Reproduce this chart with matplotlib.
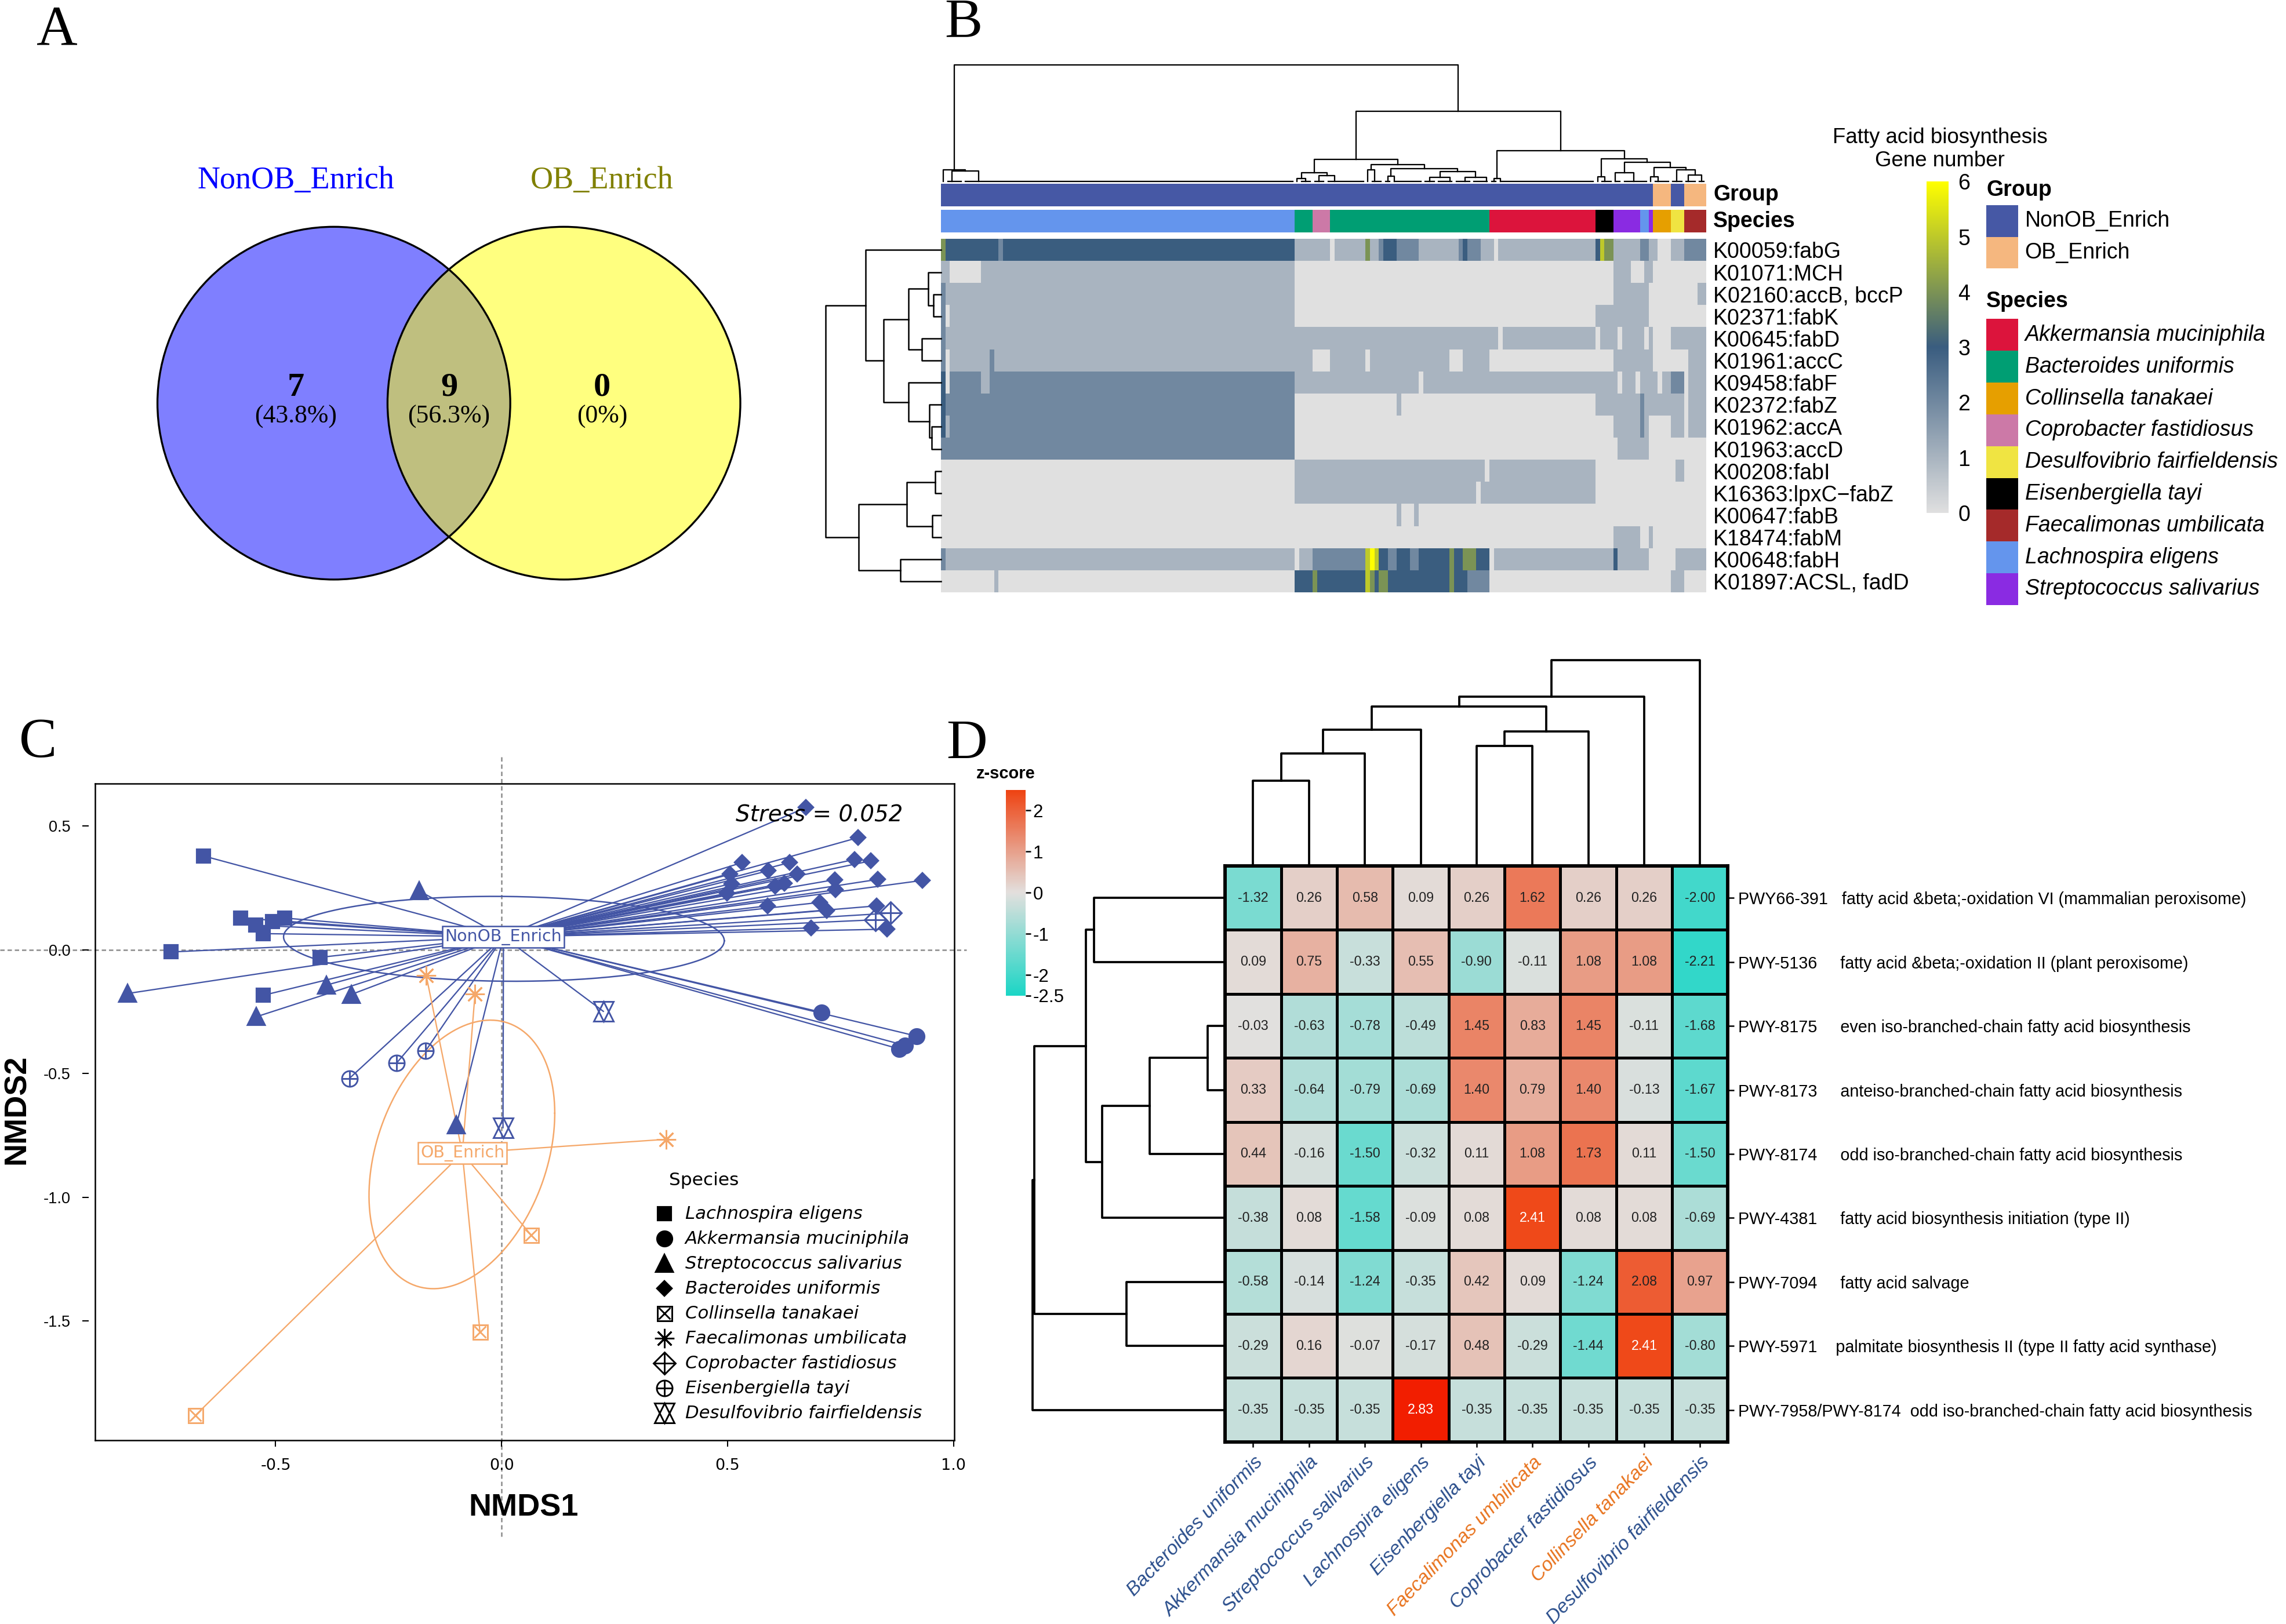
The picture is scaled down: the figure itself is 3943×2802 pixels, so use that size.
import numpy as np
import matplotlib
matplotlib.use('Agg')
import matplotlib.pyplot as plt
from matplotlib.patches import Circle, Rectangle
from matplotlib.colors import LinearSegmentedColormap, ListedColormap, Normalize

plt.rcParams['font.family'] = ['Liberation Sans', 'DejaVu Sans']

# layout is measured on a 1568 px wide view of the reference
W, H = 1568.0, 1114.2


def box(x0, y0, x1, y1):
    return [x0 / W, 1 - y1 / H, (x1 - x0) / W, (y1 - y0) / H]


# ---------------- A : venn ----------------
venn_sets = ['NonOB_Enrich', 'OB_Enrich']
venn_set_colors = ['#0000FF', '#808000']
venn_counts = [7, 9, 0]
venn_pct = ['(43.8%)', '(56.3%)', '(0%)']

# ---------------- B : gene number heatmap ----------------
gene_labels = ['K00059:fabG', 'K01071:MCH', 'K02160:accB, bccP', 'K02371:fabK',
               'K00645:fabD', 'K01961:accC', 'K09458:fabF', 'K02372:fabZ',
               'K01962:accA', 'K01963:accD', 'K00208:fabI', 'K16363:lpxC\u2212fabZ',
               'K00647:fabB', 'K18474:fabM', 'K00648:fabH', 'K01897:ACSL, fadD']

# (gene number, run length) along the 173 genomes, one list per gene
gene_runs = [
    [(4, 1), (3, 12), (2, 1), (3, 66), (1, 8), (0, 1), (1, 7), (4, 1), (1, 2), (2, 1), (3, 3), (2, 5),
     (1, 9), (2, 1), (3, 1), (2, 3), (1, 3), (0, 1), (1, 22), (3, 1), (5, 1), (4, 2), (1, 6), (2, 2),
     (1, 2), (0, 3), (1, 3), (2, 5)],
    [(1, 2), (0, 7), (1, 71), (0, 72), (1, 4), (0, 3), (1, 2), (0, 12)],
    [(2, 1), (1, 79), (0, 72), (1, 8), (0, 11), (1, 2)],
    [(2, 1), (0, 1), (1, 78), (0, 68), (1, 12), (0, 13)],
    [(2, 1), (1, 125), (0, 1), (1, 21), (0, 1), (1, 4), (0, 1), (1, 5), (0, 1), (1, 1), (0, 4), (1, 8)],
    [(2, 1), (0, 1), (1, 9), (2, 1), (1, 72), (0, 4), (1, 8), (0, 1), (1, 18), (0, 3), (1, 6), (0, 28),
     (1, 9), (0, 8), (1, 4)],
    [(3, 1), (0, 1), (2, 7), (1, 2), (2, 69), (1, 28), (0, 1), (1, 44), (0, 1), (1, 3), (0, 1), (1, 4),
     (0, 1), (1, 2), (2, 3), (0, 1), (1, 4)],
    [(3, 1), (2, 79), (0, 23), (1, 1), (0, 44), (1, 10), (2, 1), (1, 9), (0, 1), (1, 4)],
    [(3, 1), (1, 1), (2, 78), (0, 72), (1, 6), (2, 1), (1, 1), (0, 5), (1, 3), (0, 1), (1, 4)],
    [(2, 80), (0, 73), (1, 7), (0, 13)],
    [(0, 80), (1, 43), (0, 1), (1, 24), (0, 18), (1, 2), (0, 5)],
    [(0, 80), (1, 41), (0, 1), (1, 26), (0, 25)],
    [(0, 103), (1, 1), (0, 3), (1, 1), (0, 65)],
    [(0, 152), (1, 6), (0, 2), (1, 1), (0, 12)],
    [(2, 1), (1, 79), (0, 1), (1, 3), (2, 12), (5, 1), (6, 1), (5, 1), (3, 2), (2, 2), (3, 3), (2, 2),
     (3, 7), (4, 1), (3, 2), (4, 3), (3, 3), (0, 1), (1, 27), (3, 1), (1, 7), (0, 6), (1, 7)],
    [(0, 12), (1, 1), (0, 67), (3, 4), (4, 1), (3, 11), (5, 1), (4, 1), (3, 1), (4, 2), (3, 14), (4, 1),
     (3, 3), (2, 5), (0, 41), (1, 3), (0, 5)],
]

species_names = ['Akkermansia muciniphila', 'Bacteroides uniformis', 'Collinsella tanakaei',
                 'Coprobacter fastidiosus', 'Desulfovibrio fairfieldensis', 'Eisenbergiella tayi',
                 'Faecalimonas umbilicata', 'Lachnospira eligens', 'Streptococcus salivarius']
species_colors = ['#DC143C', '#009E73', '#E69F00', '#CC79A7', '#F0E442', '#000000',
                  '#A52A2A', '#6495ED', '#8A2BE2']
species_runs = [(7, 80), (1, 4), (3, 4), (1, 36), (0, 24), (5, 4), (8, 6), (7, 2), (8, 1),
                (2, 4), (4, 3), (6, 5)]
group_names = ['NonOB_Enrich', 'OB_Enrich']
group_colors = ['#4658A5', '#F5B77F']
group_runs = [(0, 161), (1, 4), (0, 3), (1, 5)]

# row clustering: (node a, node b, height)
gene_row_merges = [(2, 3, 5.3), (1, 16, 8.9), (4, 5, 13.1), (17, 18, 22.5), (8, 9, 6.6),
                   (7, 20, 8.2), (6, 21, 22.5), (19, 22, 39.6), (0, 23, 51.9), (10, 11, 4.0),
                   (12, 13, 6.2), (25, 26, 23.6), (14, 15, 27.8), (27, 28, 56.6), (24, 29, 79.4)]


def N(h, a, b):
    return ('n', h, a, b)


def G(s, e, anchor):
    return ('g', s, e, anchor)


# column clustering, leaf groups are runs of near identical genomes
genome_tree = N(79.9,
                N(8.0, G(0, 0, 0), N(7.0, G(1, 4, 2), G(5, 79, 8))),
                N(48.3,
                  N(15.1,
                    N(6.1, N(2.1, G(80, 80, 80), G(81, 83, 82)),
                      N(4.0, G(84, 86, 85), G(87, 95, 88.5))),
                    N(11.6, N(8.0, G(96, 96, 96), G(97, 99, 97.5)),
                      N(8.7, N(3.5, G(100, 101, 100.5), G(102, 108, 102)),
                        N(6.9, N(3.0, G(109, 111, 110), G(112, 115, 114.6)),
                          N(3.0, G(116, 119, 118), G(120, 123, 122.8)))))),
                  N(21.0,
                    N(2.0, G(124, 125, 124.5), G(126, 147, 126)),
                    N(15.6, N(3.3, G(148, 148, 148), G(149, 151, 149.6)),
                      N(13.2, N(6.2, G(152, 153, 152), G(154, 159, 156.2)),
                        N(9.7, N(3.3, G(160, 160, 160), G(161, 164, 161.6)),
                          N(8.0, G(165, 167, 165.8),
                            N(4.5, G(168, 170, 168.5), G(171, 172, 171.5)))))))))

# ---------------- C : NMDS ----------------
lach_xy = [(-0.660, 0.379), (-0.577, 0.128), (-0.544, 0.099), (-0.507, 0.114), (-0.480, 0.128),
           (-0.527, 0.065), (-0.731, -0.009), (-0.402, -0.031), (-0.527, -0.184)]
akk_xy = [(0.708, -0.253), (0.918, -0.349), (0.893, -0.387), (0.880, -0.401)]
strep_xy = [(-0.182, 0.237), (-0.828, -0.177), (-0.388, -0.143), (-0.333, -0.181),
            (-0.543, -0.271), (-0.100, -0.708)]
bact_xy = [(0.673, 0.574), (0.789, 0.453), (0.532, 0.352), (0.637, 0.352), (0.781, 0.365),
           (0.817, 0.359), (0.590, 0.319), (0.654, 0.305), (0.505, 0.305), (0.509, 0.267),
           (0.605, 0.256), (0.626, 0.269), (0.737, 0.283), (0.832, 0.284), (0.931, 0.280),
           (0.739, 0.242), (0.499, 0.228), (0.588, 0.177), (0.704, 0.191), (0.719, 0.159),
           (0.829, 0.177), (0.685, 0.088), (0.853, 0.083)]
colli_xy = [(0.065, -1.152), (-0.048, -1.544), (-0.678, -1.882)]
faec_xy = [(-0.167, -0.103), (-0.059, -0.179), (0.364, -0.766)]
copro_xy = [(0.827, 0.121), (0.861, 0.148)]
eisen_xy = [(-0.337, -0.520), (-0.232, -0.457), (-0.168, -0.408)]
desulf_xy = [(0.003, -0.719), (0.225, -0.249)]

nmds_species = ['Lachnospira eligens', 'Akkermansia muciniphila', 'Streptococcus salivarius',
                'Bacteroides uniformis', 'Collinsella tanakaei', 'Faecalimonas umbilicata',
                'Coprobacter fastidiosus', 'Eisenbergiella tayi', 'Desulfovibrio fairfieldensis']
nmds_points = [lach_xy, akk_xy, strep_xy, bact_xy, colli_xy, faec_xy, copro_xy, eisen_xy, desulf_xy]
nmds_shapes = ['square', 'circle', 'triangle', 'diamond', 'boxx', 'asterisk', 'diamondplus',
               'circleplus', 'david']
nmds_group = [0, 0, 0, 0, 1, 1, 0, 0, 0]
nmds_group_colors = ['#4355A5', '#F5A86A']
nmds_centroids = [(0.004, 0.052), (-0.087, -0.822)]
nmds_ell_center = [(0.005, 0.044), (-0.088, -0.827)]
nmds_ell_shape = [[[0.2377, -0.0039], [-0.0039, 0.0294]],
                  [[0.04223, 0.0342], [0.0342, 0.2943]]]
stress = 0.052

# ---------------- D : pathway z-scores ----------------
path_species = ['Bacteroides uniformis', 'Akkermansia muciniphila', 'Streptococcus salivarius',
                'Lachnospira eligens', 'Eisenbergiella tayi', 'Faecalimonas umbilicata',
                'Coprobacter fastidiosus', 'Collinsella tanakaei', 'Desulfovibrio fairfieldensis']
path_species_group = [0, 0, 0, 0, 0, 1, 0, 1, 0]
path_labels = ['PWY66-391   fatty acid &beta;-oxidation VI (mammalian peroxisome)',
               'PWY-5136     fatty acid &beta;-oxidation II (plant peroxisome)',
               'PWY-8175     even iso-branched-chain fatty acid biosynthesis',
               'PWY-8173     anteiso-branched-chain fatty acid biosynthesis',
               'PWY-8174     odd iso-branched-chain fatty acid biosynthesis',
               'PWY-4381     fatty acid biosynthesis initiation (type II)',
               'PWY-7094     fatty acid salvage',
               'PWY-5971    palmitate biosynthesis II (type II fatty acid synthase)',
               'PWY-7958/PWY-8174  odd iso-branched-chain fatty acid biosynthesis']
zscores = np.array([
    [-1.32, 0.26, 0.58, 0.09, 0.26, 1.62, 0.26, 0.26, -2.00],
    [0.09, 0.75, -0.33, 0.55, -0.90, -0.11, 1.08, 1.08, -2.21],
    [-0.03, -0.63, -0.78, -0.49, 1.45, 0.83, 1.45, -0.11, -1.68],
    [0.33, -0.64, -0.79, -0.69, 1.40, 0.79, 1.40, -0.13, -1.67],
    [0.44, -0.16, -1.50, -0.32, 0.11, 1.08, 1.73, 0.11, -1.50],
    [-0.38, 0.08, -1.58, -0.09, 0.08, 2.41, 0.08, 0.08, -0.69],
    [-0.58, -0.14, -1.24, -0.35, 0.42, 0.09, -1.24, 2.08, 0.97],
    [-0.29, 0.16, -0.07, -0.17, 0.48, -0.29, -1.44, 2.41, -0.80],
    [-0.35, -0.35, -0.35, 2.83, -0.35, -0.35, -0.35, -0.35, -0.35],
])
path_col_merges = [(0, 1, 58.4), (9, 2, 77.0), (10, 3, 93.6), (4, 5, 82.4), (12, 6, 92.3),
                   (11, 13, 109.5), (14, 7, 116.3), (15, 8, 141.0)]
path_row_merges = [(0, 1, 90.1), (2, 3, 12.0), (10, 4, 51.8), (11, 5, 84.4), (9, 12, 95.5),
                   (6, 7, 67.8), (13, 14, 130.9), (15, 8, 132.0)]


def expand(runs):
    return np.concatenate([np.full(n, v) for v, n in runs])


def draw_merges(ax, n, merges, side, lw, color='black'):
    pos = {i: i + 0.5 for i in range(n)}
    hgt = {i: 0.0 for i in range(n)}
    for k, (a, b, h) in enumerate(merges):
        xs = [pos[a], pos[a], pos[b], pos[b]]
        hs = [hgt[a], h, h, hgt[b]]
        if side == 'top':
            ax.plot(xs, hs, color=color, lw=lw, clip_on=False, solid_capstyle='projecting')
        else:
            ax.plot(hs, xs, color=color, lw=lw, clip_on=False, solid_capstyle='projecting')
        pos[n + k] = (pos[a] + pos[b]) / 2
        hgt[n + k] = h


def draw_tree(ax, node, lw):
    if node[0] == 'g':
        _, s, e, a = node
        if e > s:
            ax.plot([s + 0.5, e + 0.5], [0, 0], color='black', lw=lw, clip_on=False)
        return a + 0.5, 0.0
    _, h, left, right = node
    xl, hl = draw_tree(ax, left, lw)
    xr, hr = draw_tree(ax, right, lw)
    ax.plot([xl, xl, xr, xr], [hl, h, h, hr], color='black', lw=lw, clip_on=False)
    return (xl + xr) / 2, h


fig = plt.figure(figsize=(3943 / 300, 2802 / 300), dpi=300)
bg = fig.add_axes([0, 0, 1, 1])
bg.set_xlim(0, W)
bg.set_ylim(H, 0)
bg.axis('off')

for letter, (x, y) in zip('ABCD', [(39, 21), (661, 16), (26, 510), (663, 511)]):
    bg.text(x, y, letter, family='Liberation Serif', fontsize=23.5, ha='center', va='center')

# ---- A
centers = [(229, 276.6), (386.8, 276.6)]
for (cx, cy), fc in zip(centers, [(0, 0, 1, 0.5), (1, 1, 0, 0.5)]):
    bg.add_patch(Circle((cx, cy), 121, facecolor=fc, edgecolor='none'))
for cx, cy in centers:
    bg.add_patch(Circle((cx, cy), 121, fill=False, edgecolor='black', lw=0.8))
for name, col, x in zip(venn_sets, venn_set_colors, [203, 413]):
    bg.text(x, 124, name, color=col, family='Liberation Serif', fontsize=13,
            ha='center', va='center')
for cnt, pct, x in zip(venn_counts, venn_pct, [203, 308, 413]):
    bg.text(x, 266, str(cnt), family='Liberation Serif', fontsize=14, fontweight='bold',
            ha='center', va='center')
    bg.text(x, 286, pct, family='Liberation Serif', fontsize=10.5, ha='center', va='center')

# ---- B
ncol = 173
gene_mat = np.array([expand(r) for r in gene_runs])
gene_cmap = LinearSegmentedColormap.from_list('gene', [(0, '#E0E0E0'), (0.5, '#3A5D80'), (1, '#FFFF00')])

ax_hm = fig.add_axes(box(645.5, 164, 1170.2, 406.5))
ax_hm.imshow(gene_mat, cmap=gene_cmap, vmin=0, vmax=6, aspect='auto', interpolation='nearest',
             extent=(0, ncol, len(gene_labels), 0))
ax_hm.set_xticks([])
ax_hm.yaxis.tick_right()
ax_hm.set_yticks(np.arange(len(gene_labels)) + 0.5)
ax_hm.set_yticklabels(gene_labels, fontsize=9)
ax_hm.tick_params(axis='y', length=0, pad=3)
for s in ax_hm.spines.values():
    s.set_visible(False)

ax_gr = fig.add_axes(box(645.5, 126, 1170.2, 141.5))
ax_gr.imshow(expand(group_runs)[None, :], cmap=ListedColormap(group_colors), vmin=-0.5, vmax=1.5,
             aspect='auto', interpolation='nearest', extent=(0, ncol, 1, 0))
ax_sp = fig.add_axes(box(645.5, 144, 1170.2, 159.6))
ax_sp.imshow(expand(species_runs)[None, :], cmap=ListedColormap(species_colors), vmin=-0.5,
             vmax=8.5, aspect='auto', interpolation='nearest', extent=(0, ncol, 1, 0))
for a in (ax_gr, ax_sp):
    a.axis('off')
bg.text(1175.2, 133.8, 'Group', fontsize=9, fontweight='bold', ha='left', va='center')
bg.text(1175.2, 151.9, 'Species', fontsize=9, fontweight='bold', ha='left', va='center')

ax_cd = fig.add_axes(box(645.5, 40, 1170.2, 124.5))
ax_cd.set_xlim(0, ncol)
ax_cd.set_ylim(0, 84.5)
ax_cd.axis('off')
draw_tree(ax_cd, genome_tree, 0.55)

ax_rd = fig.add_axes(box(560, 164, 645.5, 406.5))
ax_rd.set_xlim(85.5, 0)
ax_rd.set_ylim(len(gene_labels), 0)
ax_rd.axis('off')
draw_merges(ax_rd, len(gene_labels), gene_row_merges, 'left', 0.6)

ax_cb = fig.add_axes(box(1321.3, 124.6, 1336.4, 351.9))
ax_cb.imshow(np.linspace(0, 6, 256)[:, None], cmap=gene_cmap, vmin=0, vmax=6, aspect='auto',
             origin='lower', extent=(0, 1, 0, 6))
ax_cb.set_xticks([])
ax_cb.yaxis.tick_right()
ax_cb.set_yticks(range(7))
ax_cb.tick_params(axis='y', length=0, pad=4, labelsize=9)
for s in ax_cb.spines.values():
    s.set_visible(False)
bg.text(1330.6, 94.4, 'Fatty acid biosynthesis', fontsize=8.8, ha='center', va='center')
bg.text(1330.6, 110.4, 'Gene number', fontsize=8.8, ha='center', va='center')

bg.text(1362.5, 130.4, 'Group', fontsize=9, fontweight='bold', ha='left', va='center')
for i, (name, col) in enumerate(zip(group_names, group_colors)):
    y0 = 140.8 + i * 21.7
    bg.add_patch(Rectangle((1362.5, y0), 21.7, 21.7, facecolor=col, edgecolor='none'))
    bg.text(1388.9, y0 + 10.85, name, fontsize=9, ha='left', va='center')
bg.text(1362.5, 206.7, 'Species', fontsize=9, fontweight='bold', ha='left', va='center')
for i, (name, col) in enumerate(zip(species_names, species_colors)):
    y0 = 218.9 + i * 21.8
    bg.add_patch(Rectangle((1362.5, y0), 21.7, 21.8, facecolor=col, edgecolor='none'))
    bg.text(1388.9, y0 + 10.9, name, fontsize=9, style='italic', ha='left', va='center')

# ---- C
ax_c = fig.add_axes(box(65.4, 537.8, 654.4, 988))
ax_c.set_xlim(-0.899, 1.001)
ax_c.set_ylim(-1.981, 0.670)
cfont = 'DejaVu Sans'

ax_c.axvline(0, ymin=-0.147, ymax=1.044, color='#8C8C8C', lw=0.6, ls=(0, (3, 2)), clip_on=False, zorder=1)
ax_c.axhline(0, xmin=-0.111, xmax=1.0146, color='#8C8C8C', lw=0.6, ls=(0, (3, 2)), clip_on=False, zorder=1)

t = np.linspace(0, 2 * np.pi, 300)
for g in range(2):
    col = nmds_group_colors[g]
    L = np.linalg.cholesky(np.array(nmds_ell_shape[g]))
    e = (L @ np.vstack([np.cos(t), np.sin(t)])).T + np.array(nmds_ell_center[g])
    ax_c.plot(e[:, 0], e[:, 1], color=col, lw=0.6, zorder=2)
    cx, cy = nmds_centroids[g]
    for pts, grp in zip(nmds_points, nmds_group):
        if grp != g:
            continue
        for x, y in pts:
            ax_c.plot([cx, x], [cy, y], color=col, lw=0.55, zorder=2)


def put_marker(ax, xs, ys, shape, col, **kw):
    if shape == 'square':
        ax.plot(xs, ys, 's', ms=5.5, mfc=col, mec=col, ls='none', **kw)
    elif shape == 'circle':
        ax.plot(xs, ys, 'o', ms=6, mfc=col, mec=col, ls='none', **kw)
    elif shape == 'triangle':
        ax.plot(xs, ys, '^', ms=6.5, mfc=col, mec=col, ls='none', **kw)
    elif shape == 'diamond':
        ax.plot(xs, ys, 'D', ms=4.2, mfc=col, mec=col, ls='none', **kw)
    elif shape == 'boxx':
        ax.plot(xs, ys, 's', ms=6, mfc='none', mec=col, mew=0.7, ls='none', **kw)
        ax.plot(xs, ys, 'x', ms=5, mec=col, mew=0.7, ls='none', **kw)
    elif shape == 'asterisk':
        ax.plot(xs, ys, marker=(8, 2, 0), ms=8, mec=col, mew=0.7, ls='none', **kw)
    elif shape == 'diamondplus':
        ax.plot(xs, ys, 'D', ms=6.5, mfc='none', mec=col, mew=0.7, ls='none', **kw)
        ax.plot(xs, ys, '+', ms=8, mec=col, mew=0.7, ls='none', **kw)
    elif shape == 'circleplus':
        ax.plot(xs, ys, 'o', ms=6.5, mfc='none', mec=col, mew=0.7, ls='none', **kw)
        ax.plot(xs, ys, '+', ms=6.5, mec=col, mew=0.7, ls='none', **kw)
    elif shape == 'david':
        ax.plot(xs, ys, '^', ms=8, mfc='none', mec=col, mew=0.7, ls='none', **kw)
        ax.plot(xs, ys, 'v', ms=8, mfc='none', mec=col, mew=0.7, ls='none', **kw)


for pts, shape, grp in zip(nmds_points, nmds_shapes, nmds_group):
    xs = [p[0] for p in pts]
    ys = [p[1] for p in pts]
    put_marker(ax_c, xs, ys, shape, nmds_group_colors[grp], zorder=3)

for g, name in enumerate(group_names):
    col = nmds_group_colors[g]
    cx, cy = nmds_centroids[g]
    ax_c.text(cx, cy, name, color=col, family=cfont, fontsize=6.8, ha='center', va='center', zorder=4,
              bbox=dict(boxstyle='square,pad=0.15', fc='white', ec=col, lw=0.6))

ax_c.text(0.7457, 0.9527, 'Stress = %.3f' % stress, transform=ax_c.transAxes, family=cfont,
          style='italic', fontsize=9.3, ha='left', va='center')
ax_c.text(0.668, 0.3956, 'Species', transform=ax_c.transAxes, family=cfont, fontsize=7.5,
          ha='left', va='center')
for k, (name, shape) in enumerate(zip(nmds_species, nmds_shapes)):
    yy = 1 - (832.7 + 17.1 * k - 537.8) / 450.2
    put_marker(ax_c, [0.663], [yy], shape, 'black', transform=ax_c.transAxes, clip_on=False)
    ax_c.text(0.687, yy, name, transform=ax_c.transAxes, family=cfont, style='italic',
              fontsize=7.4, ha='left', va='center')

ax_c.set_xticks([-0.5, 0.0, 0.5, 1.0])
ax_c.set_xticklabels(['-0.5', '0.0', '0.5', '1.0'])
ax_c.set_yticks([-1.5, -1.0, -0.5, 0.0, 0.5])
ax_c.set_yticklabels(['-1.5', '-1.0', '-0.5', '0.0', '0.5'])
ax_c.tick_params(direction='out', length=2.6, width=0.5, labelsize=6.5, pad=5)
for lbl in ax_c.get_xticklabels() + ax_c.get_yticklabels():
    lbl.set_fontfamily(cfont)
for s in ax_c.spines.values():
    s.set_linewidth(0.6)
ax_c.spines['left'].set_position(('outward', 2.7))
ax_c.spines['left'].set_visible(False)
ax_c.plot([0, 0], [0, 1], transform=ax_c.transAxes, color='black', lw=0.6, clip_on=False)
ax_c.text(0.4985, -0.103, 'NMDS1', transform=ax_c.transAxes, fontsize=13, fontweight='bold',
          ha='center', va='center')
ax_c.text(-0.0917, 0.504, 'NMDS2', transform=ax_c.transAxes, fontsize=13, fontweight='bold',
          ha='center', va='center', rotation=90)

# ---- D
z_cmap = LinearSegmentedColormap.from_list(
    'z', [(0, '#1CD6C6'), (2.5 / 5.35, '#E3E0DE'), (5 / 5.35, '#EF4312'), (1, '#F21E00')])
z_norm = Normalize(vmin=-2.5, vmax=2.85)

ax_d = fig.add_axes(box(840.4, 594.1, 1185.2, 989.3))
nr, nc = zscores.shape
ax_d.pcolormesh(np.arange(nc + 1), np.arange(nr + 1), zscores, cmap=z_cmap, norm=z_norm,
                edgecolors='black', linewidth=0.8)
ax_d.set_xlim(0, nc)
ax_d.set_ylim(nr, 0)
for i in range(nr):
    for j in range(nc):
        v = zscores[i, j]
        ax_d.text(j + 0.5, i + 0.5, '%.2f' % v, ha='center', va='center', fontsize=5.6,
                  color='white' if v > 2.3 else '#222222')
ax_d.set_xticks(np.arange(nc) + 0.5)
ax_d.set_xticklabels(path_species, rotation=46, ha='right', va='top', rotation_mode='anchor',
                     fontsize=8, style='italic')
for lbl, g in zip(ax_d.get_xticklabels(), path_species_group):
    lbl.set_color(['#2A4E8C', '#E8731E'][g])
ax_d.yaxis.tick_right()
ax_d.set_yticks(np.arange(nr) + 0.5)
ax_d.set_yticklabels(path_labels, fontsize=6.9)
ax_d.tick_params(axis='x', length=2.2, width=0.6, pad=2.5)
ax_d.tick_params(axis='y', length=2.6, width=0.6, pad=1.6)
for s in ax_d.spines.values():
    s.set_linewidth(1.4)

ax_dc = fig.add_axes(box(840.4, 444, 1185.2, 594.1))
ax_dc.set_xlim(0, nc)
ax_dc.set_ylim(0, 150.1)
ax_dc.axis('off')
draw_merges(ax_dc, nc, path_col_merges, 'top', 0.9)

ax_dr = fig.add_axes(box(700, 594.1, 840.4, 989.3))
ax_dr.set_xlim(140.4, 0)
ax_dr.set_ylim(nr, 0)
ax_dr.axis('off')
draw_merges(ax_dr, nr, path_row_merges, 'left', 0.9)

ax_zc = fig.add_axes(box(690, 541.9, 703.4, 683.1))
ax_zc.imshow(np.linspace(-2.5, 2.5, 256)[:, None], cmap=z_cmap, norm=z_norm, aspect='auto',
             origin='lower', extent=(0, 1, -2.5, 2.5))
ax_zc.set_xticks([])
ax_zc.yaxis.tick_right()
ax_zc.set_yticks([-2.5, -2, -1, 0, 1, 2])
ax_zc.set_yticklabels(['-2.5', '-2', '-1', '0', '1', '2'])
ax_zc.tick_params(axis='y', length=2.2, width=0.6, pad=0.8, labelsize=7.5)
for s in ax_zc.spines.values():
    s.set_visible(False)
bg.text(690, 531, 'z-score', fontsize=7, fontweight='bold', ha='center', va='center')

fig.savefig('out.png', dpi=300)
